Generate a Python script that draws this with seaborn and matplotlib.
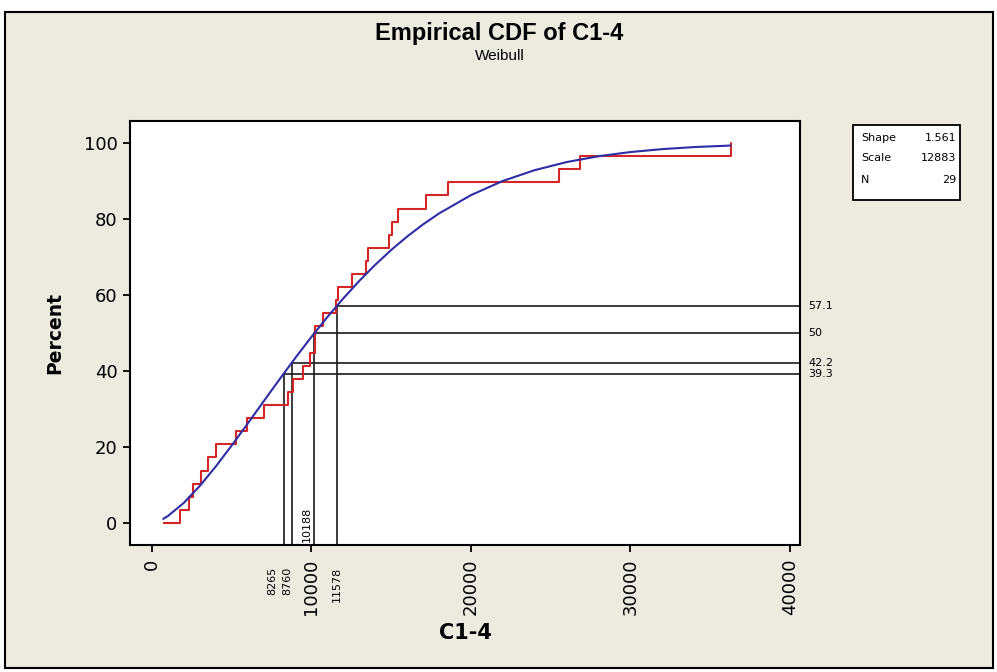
import matplotlib
matplotlib.use("Agg")
import matplotlib.pyplot as plt
import matplotlib.transforms as mtransforms
from matplotlib.patches import Rectangle
import pandas as pd
import seaborn as sns

# ---------------- data ----------------
c1_4 = [1750, 2300, 2550, 3050, 3490, 3990, 5250, 5940, 7000, 8530, 8840, 9470,
        9890, 10220, 10220, 10700, 11560, 11660, 12570, 13440, 13540, 14860,
        15070, 15420, 17200, 18560, 25520, 26810, 36280]
ecdf_start = 700

fit_x = [700, 1000, 2000, 3000, 4000, 5000, 6000, 7000, 8000, 9000, 10000,
         11000, 12000, 13000, 14000, 15000, 16000, 17000, 18000, 20000, 22000,
         24000, 26000, 28000, 30000, 32000, 34000, 36280]
fit_pct = [1.06, 1.83, 5.31, 9.77, 14.88, 20.40, 26.17, 32.02, 37.83, 43.52,
           49.00, 54.23, 59.14, 63.73, 67.97, 71.86, 75.40, 78.60, 81.47, 86.29,
           90.03, 92.87, 94.99, 96.53, 97.63, 98.40, 98.94, 99.34]

ref_x = [8265, 8760, 10188, 11578]
ref_pct = [39.3, 42.2, 50, 57.1]
ref_x_labels = ["8265", "8760", "10188", "11578"]
ref_pct_labels = ["39.3", "42.2", "50", "57.1"]

x_ticks = [0, 10000, 20000, 30000, 40000]
y_ticks = [0, 20, 40, 60, 80, 100]

stat_names = ["Shape", "Scale", "N"]
stat_values = ["1.561", "12883", "29"]

title = "Empirical CDF of C1-4"
subtitle = "Weibull"
x_label = "C1-4"
y_label = "Percent"

# ---------------- style ----------------
sns.set_style("ticks")
plt.rcParams["font.family"] = ["Liberation Sans", "DejaVu Sans"]
plt.rcParams["text.color"] = "black"
plt.rcParams["xtick.color"] = "black"
plt.rcParams["ytick.color"] = "black"

W, H = 997, 672
fig = plt.figure(figsize=(W / 100, H / 100), dpi=100, facecolor="white")

# beige outer panel with black frame
fig.patches.append(Rectangle((5 / W, 1 - 668 / H), 988 / W, 656 / H,
                             transform=fig.transFigure, facecolor="#EDEAE0",
                             edgecolor="black", linewidth=1.5, zorder=-5))

ax = fig.add_axes([130 / W, 1 - 545 / H, 670 / W, 424 / H])
ax.set_zorder(1)
ax.set_facecolor("white")

# reference lines (percentiles of the fitted distribution)
for xv, pv in zip(ref_x, ref_pct):
    ax.plot([xv, xv], [-10, pv], color="#1a1a1a", lw=1.2, zorder=1)
    ax.plot([xv, 50000], [pv, pv], color="#1a1a1a", lw=1.2, zorder=1)

# empirical CDF
df = pd.DataFrame({"C1-4": c1_4})
sns.ecdfplot(data=df, x="C1-4", stat="percent", color="#D42626", lw=1.5,
             ax=ax, zorder=3)
ax.hlines(0, ecdf_start, min(c1_4), color="#D42626", lw=1.5, zorder=3)

# fitted Weibull CDF
fit_df = pd.DataFrame({"x": fit_x, "pct": fit_pct})
sns.lineplot(data=fit_df, x="x", y="pct", color="#2D2DA6", lw=1.5, ax=ax,
             zorder=4)

ax.set_xlim(-1380, 40630)
ax.set_ylim(-5.8, 105.8)
ax.set_xlabel("")
ax.set_ylabel("")

ax.set_xticks(x_ticks)
ax.set_xticklabels([str(v) for v in x_ticks], rotation=90)
ax.set_yticks(y_ticks)
ax.tick_params(axis="both", direction="out", length=5, width=1.3,
               labelsize=13, colors="black", pad=4)
ax.tick_params(axis="x", pad=5)
for lbl in ax.get_xticklabels() + ax.get_yticklabels():
    lbl.set_family("DejaVu Sans")
for s in ax.spines.values():
    s.set_visible(True)
    s.set_linewidth(1.5)
    s.set_color("black")

# x reference labels
trans_xa = mtransforms.blended_transform_factory(ax.transData, ax.transAxes)
offsets = {"8265": (-12, -22), "8760": (-4, -22), "11578": (0, -22)}
for xv, lab in zip(ref_x, ref_x_labels):
    if lab == "10188":
        ax.annotate(lab, xy=(xv, 0), xycoords=trans_xa, xytext=(-8, 3),
                    textcoords="offset pixels", rotation=90, ha="center",
                    va="bottom", fontsize=8, family="DejaVu Sans",
                    annotation_clip=False)
    else:
        dx, dy = offsets[lab]
        ax.annotate(lab, xy=(xv, 0), xycoords=trans_xa, xytext=(dx, dy),
                    textcoords="offset pixels", rotation=90, ha="center",
                    va="top", fontsize=8, family="DejaVu Sans",
                    annotation_clip=False)

# y reference labels on the right
trans_ay = mtransforms.blended_transform_factory(ax.transAxes, ax.transData)
for pv, lab in zip(ref_pct, ref_pct_labels):
    ax.annotate(lab, xy=(1, pv), xycoords=trans_ay, xytext=(8, 0),
                textcoords="offset pixels", ha="left", va="center",
                fontsize=8, family="DejaVu Sans", annotation_clip=False)

# titles and axis labels
fig.text(0.501, 1 - 40 / H, title, ha="center", va="baseline",
         fontsize=17, fontweight="bold")
fig.text(0.501, 1 - 60 / H, subtitle, ha="center", va="baseline",
         fontsize=11)
fig.text(55 / W, 1 - 333 / H, y_label, ha="center", va="center",
         rotation=90, fontsize=13.5, fontweight="bold", family="DejaVu Sans")
fig.text(465 / W, 1 - 633 / H, x_label, ha="center", va="center",
         fontsize=15, fontweight="bold", family="DejaVu Sans")

# statistics box
fig.patches.append(Rectangle((853 / W, 1 - 200 / H), 107 / W, 75 / H,
                             transform=fig.transFigure, facecolor="white",
                             edgecolor="black", linewidth=1.3, zorder=2))
row_y = [138, 158, 180]
for ry, nm, val in zip(row_y, stat_names, stat_values):
    fig.text(861 / W, 1 - ry / H, nm, ha="left", va="center", fontsize=8,
             family="DejaVu Sans", zorder=3)
    fig.text(956 / W, 1 - ry / H, val, ha="right", va="center", fontsize=8,
             family="DejaVu Sans", zorder=3)

fig.savefig("out.png", dpi=100, facecolor=fig.get_facecolor())
